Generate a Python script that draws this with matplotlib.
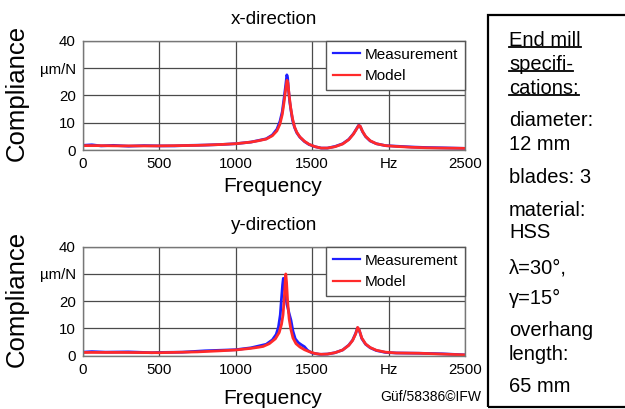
import matplotlib
matplotlib.use("Agg")
import matplotlib.pyplot as plt
from matplotlib.patches import Rectangle
from matplotlib.lines import Line2D

plt.rcParams['font.family'] = ['Liberation Sans', 'DejaVu Sans']

# ---------------- data ----------------
x_meas_f = [0, 60, 120, 200, 300, 400, 500, 600, 700, 800, 900, 1000, 1100, 1150, 1200, 1240, 1270,
            1290, 1305, 1318, 1328, 1335, 1340, 1346, 1354, 1362, 1372, 1385, 1400, 1420, 1450, 1480,
            1520, 1560, 1600, 1650, 1700, 1740, 1770, 1790, 1805, 1815, 1830, 1850, 1880, 1920, 1980,
            2050, 2150, 2250, 2350, 2500]
x_meas_v = [1.7, 1.9, 1.5, 1.7, 1.4, 1.6, 1.5, 1.5, 1.7, 1.8, 2.0, 2.3, 2.9, 3.5, 4.1, 5.5, 7.6,
            10.5, 14, 19.5, 24, 27.5, 26.5, 22, 17.5, 14.5, 11, 8.3, 6.3, 4.7, 3.1, 2.0,
            1.2, 0.7, 0.7, 1.3, 2.3, 3.9, 5.9, 7.7, 9.1, 8.6, 6.7, 4.9, 3.3, 2.3, 1.6,
            1.4, 1.1, 0.9, 0.8, 0.6]

x_model_f = [0, 100, 250, 500, 750, 900, 1000, 1100, 1150, 1200, 1240, 1270, 1290, 1305, 1318, 1328,
             1336, 1342, 1350, 1360, 1372, 1385, 1400, 1420, 1450, 1480, 1520, 1560, 1600, 1650, 1700,
             1740, 1770, 1790, 1805, 1815, 1830, 1850, 1880, 1920, 1980, 2050, 2150, 2250, 2350, 2500]
x_model_v = [1.6, 1.6, 1.5, 1.5, 1.7, 2.0, 2.3, 2.9, 3.4, 4.0, 5.2, 7.0, 9.5, 13, 18, 22.5,
             25.5, 24.5, 20, 15.5, 11.5, 8.5, 6.5, 4.8, 3.2, 2.1, 1.2, 0.7, 0.7, 1.2, 2.2,
             3.8, 5.8, 7.6, 9.0, 8.7, 6.8, 5.0, 3.4, 2.3, 1.6, 1.3, 1.0, 0.8, 0.7, 0.6]

y_meas_f = [0, 60, 150, 300, 450, 500, 650, 800, 900, 1000, 1100, 1200, 1240, 1265, 1280, 1292, 1300,
            1307, 1312, 1318, 1325, 1335, 1350, 1362, 1375, 1390, 1410, 1430, 1450, 1470, 1500, 1550,
            1600, 1650, 1700, 1740, 1765, 1785, 1797, 1808, 1825, 1850, 1880, 1920, 1980, 2050, 2200,
            2350, 2500]
y_meas_v = [1.3, 1.5, 1.3, 1.4, 1.1, 1.2, 1.3, 1.8, 2.0, 2.2, 2.9, 4.2, 5.8, 7.8, 10.5, 15, 21,
            26, 28.4, 27, 23, 19, 15.5, 13, 9, 6.2, 4.8, 4.0, 3.3, 2.0, 1.0, 0.5,
            0.6, 1.1, 2.1, 3.9, 5.7, 8.2, 10.2, 9.4, 6.3, 4.2, 2.9, 1.9, 1.2, 1.0, 0.9,
            0.7, 0.3]

y_model_f = [0, 250, 500, 750, 900, 1000, 1100, 1150, 1180, 1220, 1260, 1285, 1300, 1310, 1318, 1324,
             1328, 1333, 1340, 1350, 1362, 1375, 1395, 1420, 1450, 1480, 1520, 1560, 1600, 1650, 1700,
             1740, 1765, 1785, 1798, 1808, 1825, 1850, 1880, 1920, 1980, 2050, 2200, 2350, 2500]
y_model_v = [1.2, 1.2, 1.1, 1.4, 1.8, 2.1, 2.7, 3.1, 3.4, 4.4, 6.2, 8.5, 11.5, 15, 21, 27,
             30, 27, 20, 13.5, 9.5, 6.5, 4.4, 3.2, 2.2, 1.5, 0.8, 0.5, 0.6, 1.1, 2.1,
             3.8, 5.6, 8.0, 10.4, 9.5, 6.5, 4.3, 3.0, 2.0, 1.3, 1.0, 0.9, 0.6, 0.3]

x_ticks = [0, 500, 1000, 1500, 2000, 2500]
x_tick_labels = ['0', '500', '1000', '1500', 'Hz', '2500']
y_ticks = [0, 10, 20, 30, 40]
y_tick_labels = ['0', '10', '20', 'µm/N', '40']

titles = ['x-direction', 'y-direction']
legend_labels = ['Measurement', 'Model']
spec_lines = ['End mill', 'specifi-', 'cations:', 'diameter:', '12 mm', 'blades: 3', 'material:',
              'HSS', 'λ=30°,', 'γ=15°', 'overhang', 'length:', '65 mm']
spec_underlined = [True, True, True] + [False] * 10
watermark = 'Güf/58386©IFW'

# ---------------- figure ----------------
W, H = 625, 409
fig = plt.figure(figsize=(W / 100, H / 100), dpi=100)

def fx(px):
    return px / W

def fy(py):
    return 1 - py / H

axes_px = [(82.7, 40.7, 465, 150), (82.7, 246.7, 465, 355.7)]
series = [(x_meas_f, x_meas_v, x_model_f, x_model_v), (y_meas_f, y_meas_v, y_model_f, y_model_v)]
blue = '#1f1fff'
red = '#ff2a2a'
grid_c = '#4a4a4a'

for i, ((l, t, r, b), (mf, mv, pf, pv)) in enumerate(zip(axes_px, series)):
    ax = fig.add_axes([fx(l), fy(b), fx(r - l), (b - t) / H])
    ax.plot(mf, mv, color=blue, lw=2.0, label=legend_labels[0])
    ax.plot(pf, pv, color=red, lw=2.0, label=legend_labels[1])
    ax.set_xlim(0, 2500)
    ax.set_ylim(0, 40)
    ax.set_xticks(x_ticks)
    ax.set_xticklabels(x_tick_labels)
    ax.set_yticks(y_ticks)
    ax.set_yticklabels(y_tick_labels)
    for lab in ax.get_yticklabels():
        if lab.get_text() == 'µm/N':
            lab.set_fontsize(9.5)
    ax.tick_params(length=0, labelsize=10.8, pad=5)
    ax.grid(True, color=grid_c, lw=0.9)
    for s in ax.spines.values():
        s.set_color('#777777')
        s.set_linewidth(1.0)
    ax.set_title(titles[i], fontsize=13.5, pad=12)
    leg = ax.legend(loc='upper right', borderaxespad=0, fancybox=False, fontsize=11,
                    handlelength=1.8, handletextpad=0.3, borderpad=0.45, labelspacing=0.5,
                    framealpha=1)
    leg.get_frame().set_edgecolor('#555555')
    leg.get_frame().set_linewidth(1.0)
    for h in leg.get_lines():
        h.set_linewidth(1.6)
    fig.text(fx(17), fy((t + b) / 2 - 2), 'Compliance', rotation=90, ha='center', va='center',
             fontsize=18.5)

fig.text(fx(273), fy(186), 'Frequency', ha='center', va='center', fontsize=15)
fig.text(fx(273), fy(399), 'Frequency', ha='center', va='center', fontsize=15)

fig.text(fx(481.7), fy(397), watermark, ha='right', va='center', fontsize=10)

# specification box
fig.patches.append(Rectangle((fx(487.7), fy(406.7)), fx(660 - 487.7), (406.7 - 15) / H,
                             transform=fig.transFigure, fill=False, edgecolor='black', lw=1.6))
spec_y = [40, 64, 88, 121, 145, 177, 210, 233, 268, 298, 331, 355, 387]
spec_texts = []
for txt, yy, ul in zip(spec_lines, spec_y, spec_underlined):
    tt = fig.text(fx(509), fy(yy), txt, ha='left', va='center', fontsize=14.5)
    spec_texts.append((tt, ul))

fig.canvas.draw()
renderer = fig.canvas.get_renderer()
for tt, ul in spec_texts:
    if ul:
        bb = tt.get_window_extent(renderer)
        ybase = bb.y0 + 2.5
        fig.add_artist(Line2D([bb.x0 / W, bb.x1 / W], [ybase / H, ybase / H],
                              transform=fig.transFigure, color='black', lw=1.3))

fig.savefig('out.png', dpi=100)
